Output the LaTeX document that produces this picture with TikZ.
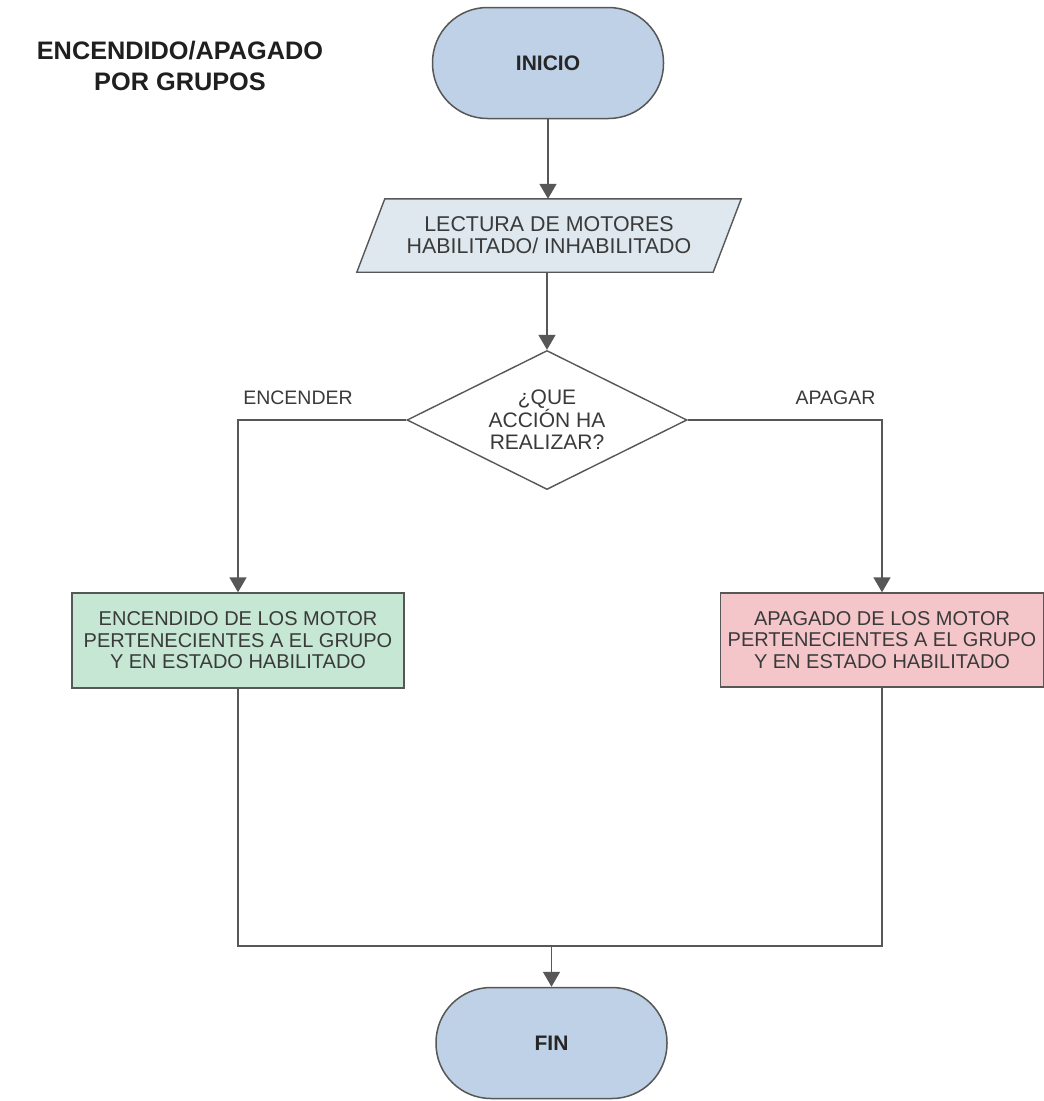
\documentclass[tikz,border=0pt]{standalone}
\usepackage{fontspec}
\setmainfont{Liberation Sans}
\usetikzlibrary{arrows.meta,shapes.geometric,backgrounds,calc}

\definecolor{edgegray}{HTML}{575757}
\definecolor{textgray}{HTML}{3A3A3A}
\definecolor{termblue}{HTML}{BED1E6}
\definecolor{readfill}{HTML}{DFE8EE}
\definecolor{onfill}{HTML}{C5E7D3}
\definecolor{offfill}{HTML}{F5C6C9}

\tikzset{
  terminal/.style={rectangle, rounded corners=55pt, draw=edgegray, line width=1.5pt,
    fill=termblue, minimum width=231pt, minimum height=111pt, inner sep=0pt,
    font=\fontsize{21}{22}\selectfont\bfseries, text=black!85},
  iobox/.style={rectangle, minimum width=356pt, minimum height=73pt, inner sep=0pt,
    align=center, font=\fontsize{21.4}{22}\selectfont, text=textgray},
  decision/.style={diamond, aspect=2, draw=edgegray, line width=1.4pt, fill=white,
    minimum width=280pt, minimum height=139pt, inner sep=0pt, align=center,
    font=\fontsize{21}{22}\selectfont, text=textgray},
  process/.style={rectangle, draw=edgegray, line width=1.4pt, inner sep=0pt,
    minimum height=95pt, align=center, font=\fontsize{20}{21.5}\selectfont, text=textgray},
  flow/.style={draw=edgegray, line width=1.6pt, -{Triangle[length=15pt,width=17pt]}},
  plainflow/.style={draw=edgegray, line width=1.6pt},
  branchlabel/.style={anchor=base, inner sep=0pt, font=\fontsize{19.5}{21}\selectfont, text=textgray}
}

\begin{document}
\begin{tikzpicture}[x=1pt,y=-1pt]
  \useasboundingbox (0,0) rectangle (1044,1101);
  \begin{scope}[on background layer]
    \fill[white] (0,0) rectangle (1044,1101);
  \end{scope}

  % title
  \node[align=center, inner sep=0pt, text=black!88,
        font=\fontsize{25.3}{31}\selectfont\bfseries] (title) at (180,66)
        {ENCENDIDO/APAGADO\\POR GRUPOS};

  % nodes
  \node[terminal] (start) at (548,63) {INICIO};
  \node[iobox] (read) at (549,235.5) {LECTURA DE MOTORES\\HABILITADO/ INHABILITADO};
  \begin{scope}[on background layer]
    \draw[edgegray, line width=1.4pt, fill=readfill]
      ($(read.north west)+(14,0)$) -- ($(read.north east)+(14,0)$)
      -- ($(read.south east)+(-14,0)$) -- ($(read.south west)+(-14,0)$) -- cycle;
  \end{scope}
  \node[decision] (choice) at (547,420) {¿QUE\\ACCIÓN HA\\REALIZAR?};
  \node[process, fill=onfill, minimum width=332pt] (on) at (238,640.5)
    {ENCENDIDO DE LOS MOTOR\\PERTENECIENTES A EL GRUPO\\Y EN ESTADO HABILITADO};
  \node[process, fill=offfill, minimum width=323pt, minimum height=94pt] (off) at (882,640)
    {APAGADO DE LOS MOTOR\\PERTENECIENTES A EL GRUPO\\Y EN ESTADO HABILITADO};
  \node[terminal] (end) at (551.5,1043) {FIN};

  % branch labels
  \node[branchlabel] (lblon) at (298,404) {ENCENDER};
  \node[branchlabel] (lbloff) at (835.5,404) {APAGAR};

  % merge points
  \coordinate (joinL) at (238,946);
  \coordinate (joinR) at (882,946);
  \coordinate (joinM) at (551.5,946);

  % connectors
  \draw[flow] (start.south) -- (start.south |- read.north);
  \draw[flow] (read.south -| choice.north) -- (choice.north);
  \draw[flow] (choice.west) -| (on.north);
  \draw[flow] (choice.east) -| (off.north);
  \draw[plainflow] (on.south) -- (joinL) -- (joinR) -- (off.south);
  \draw[flow] (joinM) -- (end.north);
\end{tikzpicture}
\end{document}
